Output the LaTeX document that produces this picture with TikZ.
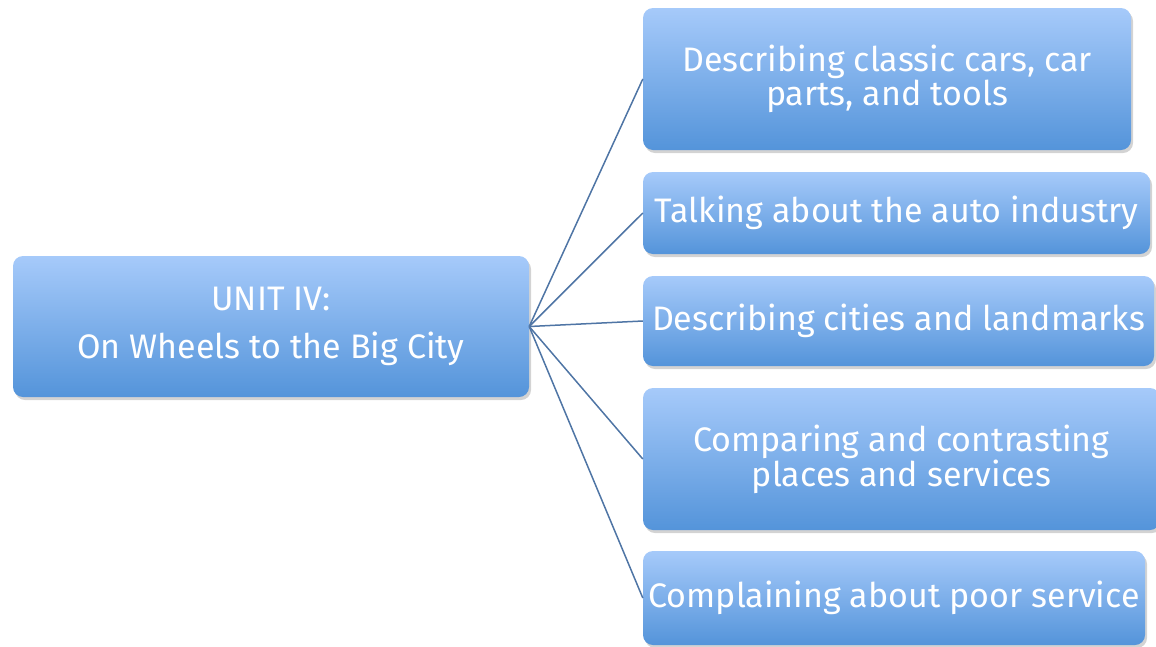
\documentclass[tikz,border=0pt]{standalone}
\usepackage{fontspec}
\setmainfont{Fira Sans}
\usetikzlibrary{shadows}

\definecolor{boxtop}{RGB}{166,202,250}
\definecolor{boxbot}{RGB}{84,148,218}
\definecolor{linkblue}{RGB}{79,117,165}

\begin{document}
\begin{tikzpicture}[
		x=1pt, y=-1pt,
		every node/.style={rectangle, rounded corners=10pt, top color=boxtop, bottom color=boxbot,
			text=white, align=center, inner sep=0pt,
			font=\fontsize{34}{31}\selectfont,
			drop shadow={shadow xshift=2pt, shadow yshift=-3pt, opacity=0.35}},
		link/.style={draw=linkblue, line width=1.5pt}
	]
  \useasboundingbox (0,0) rectangle (1156,646);
  \node (unit) [minimum width=516pt, minimum height=141pt] at (271,326.5) {UNIT IV:\\[17pt]On Wheels to the Big City};
  \node (cars) [minimum width=488pt, minimum height=142pt] at (887,79) {Describing classic cars, car\\parts, and tools};
  \node (auto) [minimum width=507pt, minimum height=82pt] at (896.5,213) {Talking about the auto industry};
  \node (cities) [minimum width=511pt, minimum height=90pt] at (898.5,321) {Describing cities and landmarks};
  \node (compare) [minimum width=517pt, minimum height=142pt] at (901.5,459) {Comparing and contrasting\\places and services};
  \node (complain) [minimum width=502pt, minimum height=94pt] at (894,598) {Complaining about poor service};
  \draw [link] (unit.east) -- (cars.west);
  \draw [link] (unit.east) -- (auto.west);
  \draw [link] (unit.east) -- (cities.west);
  \draw [link] (unit.east) -- (compare.west);
  \draw [link] (unit.east) -- (complain.west);
\end{tikzpicture}
\end{document}
